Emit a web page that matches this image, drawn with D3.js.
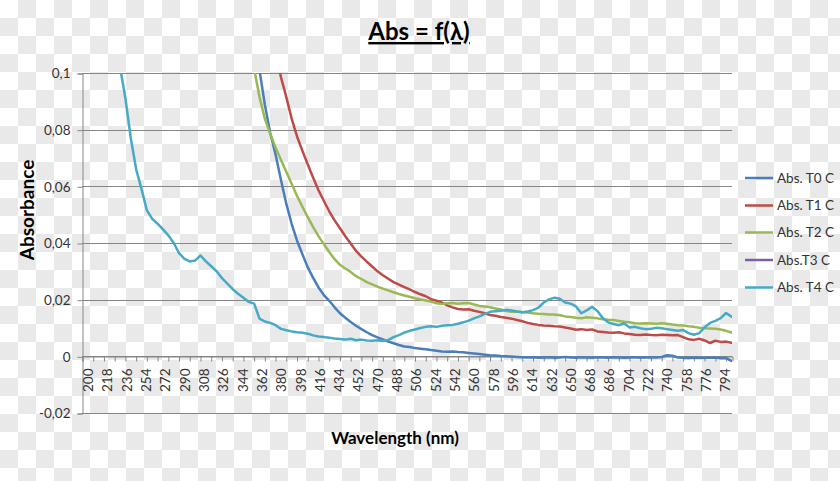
<!DOCTYPE html>
<html><head><meta charset="utf-8">
<script src="https://cdn.jsdelivr.net/npm/d3@7"></script>
<style>
body{margin:0;background:#fff}
svg{display:block}
text{font-family:Lato,"Open Sans",sans-serif}
</style>
</head><body>
<svg id="chart" width="840" height="481"></svg>
<script>
// ---- data ----
const wavelengths = [195,200,205,210,215,220,225,230,235,240,245,250,255,260,265,270,275,280,285,290,295,300,305,310,315,320,325,330,335,340,345,350,355,360,365,370,375,380,385,390,395,400,405,410,415,420,425,430,435,440,445,450,455,460,465,470,475,480,485,490,495,500,505,510,515,520,525,530,535,540,545,550,555,560,565,570,575,580,585,590,595,600,605,610,615,620,625,630,635,640,645,650,655,660,665,670,675,680,685,690,695,700,705,710,715,720,725,730,735,740,745,750,755,760,765,770,775,780,785,790,795,800];
const xTickLabels = [200,218,236,254,272,290,308,326,344,362,380,398,416,434,452,470,488,506,524,542,560,578,596,614,632,650,668,686,704,722,740,758,776,794];
const yTickValues = [-0.02,0,0.02,0.04,0.06,0.08,0.1];
const seriesNames = ["Abs. T0 C","Abs. T1 C","Abs. T2 C","Abs.T3 C","Abs. T4 C"];
const seriesColors = ["#4a7ebb","#be4b48","#98b954","#7d60a0","#46aac5"];

// values aligned to the END of `wavelengths` (earlier wavelengths are off the chart)
const absT0 = [0.1135,0.1010,0.0887,0.0788,0.0712,0.0622,0.0538,0.0467,0.0408,0.0360,0.0314,0.0277,0.0243,0.0216,0.0196,0.0173,0.0152,0.0136,0.0121,0.0108,0.0096,0.0085,0.0075,0.0067,0.0060,0.0052,0.0046,0.0040,0.0035,0.0033,0.0029,0.0027,0.0025,0.0022,0.0020,0.0017,0.0016,0.0017,0.0015,0.0014,0.0012,0.0010,0.0008,0.0006,0.0004,0.0003,0.0001,0.0000,-0.0001,-0.0002,-0.0003,-0.0004,-0.0003,-0.0005,-0.0004,-0.0003,-0.0005,-0.0004,-0.0002,-0.0004,-0.0005,-0.0003,-0.0004,-0.0005,-0.0003,-0.0004,-0.0005,-0.0003,-0.0004,-0.0005,-0.0004,-0.0003,-0.0005,-0.0004,-0.0003,-0.0004,-0.0002,0.0004,0.0002,-0.0004,-0.0005,-0.0006,-0.0004,-0.0005,-0.0006,-0.0004,-0.0005,-0.0007,-0.0006,-0.0016];
const absT1 = [0.1180,0.1080,0.0985,0.0915,0.0838,0.0776,0.0725,0.0677,0.0630,0.0586,0.0548,0.0512,0.0480,0.0452,0.0424,0.0398,0.0372,0.0352,0.0334,0.0317,0.0300,0.0286,0.0274,0.0262,0.0253,0.0244,0.0236,0.0227,0.0219,0.0212,0.0202,0.0196,0.0190,0.0180,0.0173,0.0167,0.0165,0.0166,0.0161,0.0157,0.0152,0.0146,0.0143,0.0139,0.0136,0.0133,0.0128,0.0124,0.0118,0.0114,0.0111,0.0109,0.0108,0.0106,0.0105,0.0102,0.0098,0.0094,0.0096,0.0093,0.0095,0.0088,0.0086,0.0084,0.0083,0.0085,0.0081,0.0079,0.0076,0.0075,0.0077,0.0075,0.0074,0.0076,0.0075,0.0074,0.0075,0.0068,0.0060,0.0058,0.0062,0.0056,0.0047,0.0055,0.0051,0.0052,0.0048];
const absT2 = [0.1125,0.1015,0.0915,0.0838,0.0785,0.0737,0.0693,0.0651,0.0608,0.0566,0.0528,0.0491,0.0456,0.0424,0.0396,0.0368,0.0343,0.0323,0.0310,0.0298,0.0283,0.0273,0.0262,0.0254,0.0246,0.0239,0.0233,0.0226,0.0220,0.0215,0.0210,0.0205,0.0201,0.0197,0.0193,0.0187,0.0185,0.0187,0.0188,0.0186,0.0187,0.0188,0.0183,0.0178,0.0176,0.0173,0.0169,0.0165,0.0160,0.0157,0.0158,0.0156,0.0155,0.0152,0.0150,0.0149,0.0148,0.0148,0.0145,0.0141,0.0139,0.0136,0.0134,0.0138,0.0136,0.0134,0.0131,0.0129,0.0128,0.0125,0.0122,0.0120,0.0117,0.0116,0.0117,0.0116,0.0115,0.0117,0.0115,0.0112,0.0110,0.0109,0.0106,0.0104,0.0101,0.0099,0.0098,0.0097,0.0095,0.0090,0.0084];
const absT3 = [];
const absT4 = [0.24,0.21,0.185,0.16,0.14,0.125,0.112,0.102,0.091,0.077,0.066,0.059,0.0515,0.0485,0.0468,0.0448,0.0427,0.0400,0.0364,0.0344,0.0335,0.0338,0.0356,0.0335,0.0318,0.0300,0.0276,0.0257,0.0237,0.0221,0.0207,0.0192,0.0186,0.0133,0.0123,0.0118,0.0110,0.0097,0.0092,0.0088,0.0085,0.0083,0.0080,0.0074,0.0070,0.0068,0.0066,0.0063,0.0061,0.0059,0.0062,0.0057,0.0059,0.0056,0.0055,0.0057,0.0054,0.0058,0.0068,0.0075,0.0084,0.0090,0.0095,0.0100,0.0104,0.0106,0.0104,0.0108,0.0110,0.0111,0.0115,0.0120,0.0126,0.0134,0.0141,0.0150,0.0157,0.0159,0.0161,0.0164,0.0162,0.0158,0.0156,0.0158,0.0163,0.0172,0.0190,0.0201,0.0207,0.0203,0.0190,0.0186,0.0176,0.0152,0.0162,0.0175,0.0160,0.0135,0.0120,0.0114,0.0110,0.0116,0.0102,0.0104,0.0099,0.0096,0.0097,0.0101,0.0099,0.0096,0.0093,0.0090,0.0093,0.0082,0.0076,0.0082,0.0103,0.0118,0.0125,0.0135,0.0153,0.0140];

const seriesValues = [absT0, absT1, absT2, absT3, absT4];

// ---- drawing ----
const W = 840, H = 481;
const plot = {left: 82, right: 732, top: 73, bottom: 413};
const svg = d3.select("#chart");

// transparency checkerboard background
const defs = svg.append("defs");
const pat = defs.append("pattern").attr("id","cb").attr("width",36).attr("height",36)
  .attr("patternUnits","userSpaceOnUse");
pat.append("rect").attr("width",36).attr("height",36).attr("fill","#ffffff");
pat.append("rect").attr("x",18).attr("y",0).attr("width",18).attr("height",18).attr("fill","#e9e9e9");
pat.append("rect").attr("x",0).attr("y",18).attr("width",18).attr("height",18).attr("fill","#e9e9e9");
svg.append("rect").attr("width",W).attr("height",H).attr("fill","url(#cb)");

defs.append("clipPath").attr("id","plotClip").append("rect")
  .attr("x",plot.left).attr("y",plot.top)
  .attr("width",plot.right-plot.left).attr("height",plot.bottom-plot.top);

const x = d3.scaleLinear().domain([194.5, 800.5]).range([plot.left, plot.right]);
const y = d3.scaleLinear().domain([-0.02, 0.1]).range([plot.bottom, plot.top]);

const gridColor = "#868686";
const fmt = d => String(+d.toFixed(2)).replace(".", ",");

// horizontal gridlines
svg.append("g").selectAll("line").data(yTickValues).join("line")
  .attr("x1",plot.left).attr("x2",plot.right)
  .attr("y1",d=>Math.round(y(d))+0.5).attr("y2",d=>Math.round(y(d))+0.5)
  .attr("stroke",gridColor).attr("stroke-width",1);

// y axis
const yAxis = svg.append("g").attr("transform",`translate(${plot.left+0.5},0.5)`)
  .call(d3.axisLeft(y).tickValues(yTickValues).tickSize(5).tickPadding(7).tickFormat(fmt));
yAxis.select(".domain").attr("stroke",gridColor);
yAxis.selectAll(".tick line").attr("stroke",gridColor);
yAxis.selectAll("text").attr("font-size",13.5).attr("fill","#333").style("font-family","Lato");

// x axis at y = 0
const tickBounds = d3.range(194.5, 801, 10);
const y0 = Math.round(y(0))+0.5;
const xAxis = svg.append("g").attr("transform",`translate(0.5,${y0})`)
  .call(d3.axisBottom(x).tickValues(tickBounds).tickSize(5).tickFormat(""));
xAxis.select(".domain").attr("stroke",gridColor);
xAxis.selectAll(".tick line").attr("stroke",gridColor);

const xLab = svg.append("g").attr("transform",`translate(0,${y0})`)
  .call(d3.axisBottom(x).tickValues(xTickLabels).tickSize(0).tickFormat(d3.format("d")));
xLab.select(".domain").remove();
xLab.selectAll("text")
  .attr("transform","rotate(-90)")
  .attr("x",-12).attr("y",0).attr("dy","0.35em")
  .attr("text-anchor","end")
  .attr("font-size",13.5).attr("fill","#333").style("font-family","Lato");

// series lines
const line = d3.line()
  .defined(d => d.v !== null && d.v !== undefined)
  .x(d => x(d.nm)).y(d => y(d.v));

const seriesData = seriesValues.map(vals => {
  const off = wavelengths.length - vals.length;
  return vals.map((v,i) => ({nm: wavelengths[i+off], v}));
});

svg.append("g").attr("clip-path","url(#plotClip)")
  .selectAll("path").data(seriesData).join("path")
  .attr("d", d => d.length ? line(d) : null)
  .attr("fill","none")
  .attr("stroke",(d,i)=>seriesColors[i])
  .attr("stroke-width",2.5)
  .attr("stroke-linejoin","round")
  .attr("stroke-linecap","round");

// legend
const legendRows = [178, 205.5, 232.5, 260, 287.5];
const lg = svg.append("g").selectAll("g").data(seriesNames).join("g")
  .attr("transform",(d,i)=>`translate(745,${legendRows[i]})`);
lg.append("line").attr("x1",0).attr("x2",28).attr("y1",0).attr("y2",0)
  .attr("stroke",(d,i)=>seriesColors[i]).attr("stroke-width",2.5);
lg.append("text").attr("x",32).attr("dy","0.35em").attr("font-size",13.5)
  .attr("fill","#333").text(d=>d);

// titles
svg.append("text").attr("x",419).attr("y",40).attr("text-anchor","middle")
  .attr("font-size",24).attr("font-weight","bold").attr("fill","#000")
  .attr("text-decoration","underline").text("Abs = f(λ)");

svg.append("text").attr("transform","translate(34,210) rotate(-90)")
  .attr("text-anchor","middle").attr("font-size",19).attr("font-weight","bold")
  .attr("fill","#000").text("Absorbance");

svg.append("text").attr("x",395).attr("y",444).attr("text-anchor","middle")
  .attr("font-size",17).attr("font-weight","bold").attr("fill","#000")
  .text("Wavelength (nm)");
</script>
</body></html>
